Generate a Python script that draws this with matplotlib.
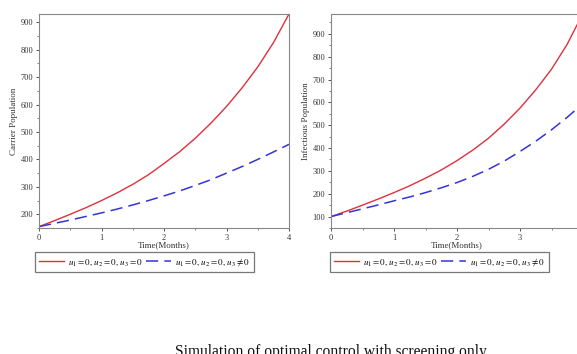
import matplotlib
matplotlib.use("Agg")
import matplotlib.pyplot as plt
import numpy as np

plt.rcParams['font.family'] = ['Liberation Serif', 'DejaVu Serif']
plt.rcParams['mathtext.fontset'] = 'stix'

# time in months
t = [0, 0.25, 0.5, 0.75, 1, 1.25, 1.5, 1.75, 2, 2.25, 2.5, 2.75, 3, 3.25, 3.5, 3.75, 4]

# carrier population (left panel)
carrier_no_ctrl = [155, 177, 200, 224, 250, 278, 309, 344, 385, 428, 477, 532, 593, 661, 737, 825, 930]
carrier_screen = [155, 167, 179, 192, 205, 219, 234, 250, 267, 285, 305, 326, 350, 374, 400, 427, 455]

# infectious population (right panel)
infect_no_ctrl = [100, 124, 150, 177, 205, 235, 268, 304, 345, 391, 443, 505, 575, 655, 745, 855, 990]
infect_screen = [100, 117, 134, 151, 169, 186, 205, 226, 249, 276, 307, 343, 385, 430, 480, 535, 595]

lab1 = r'$u_1=0,\, u_2=0,\, u_3=0$'
lab2 = r'$u_1=0,\, u_2=0,\, u_3\neq 0$'

red = '#e0303c'
blue = '#3434d8'

fig = plt.figure(figsize=(5.77, 3.54), dpi=100)


def panel(rect, y1, y2, ylim, yticks, ylabel, leg_x):
    ax = fig.add_axes(rect)
    ax.plot(t, y1, '-', color=red, lw=1.0, label=lab1)
    ax.plot(t, y2, '-', color=blue, lw=1.1, dashes=(8, 4), label=lab2)
    ax.set_xlim(0, 4)
    ax.set_ylim(*ylim)
    ax.set_xticks([0, 1, 2, 3, 4])
    ax.set_xticks(np.arange(0, 4.01, 0.5), minor=True)
    ax.set_yticks(yticks)
    ax.set_yticks(np.arange(yticks[0] - 50, ylim[1], 50), minor=True)
    ax.tick_params(labelsize=6, length=2.5, width=0.6, pad=1.5, colors='#333333')
    ax.tick_params(which='minor', length=1.5, width=0.5, colors='#555555')
    for s in ax.spines.values():
        s.set_color('#888888')
        s.set_linewidth(0.8)
    ax.set_xlabel('Time(Months)', fontsize=6.5, labelpad=0, color='#333333')
    ax.set_ylabel(ylabel, fontsize=6.5, labelpad=2, color='#333333')
    leg = ax.legend(loc='upper left', bbox_to_anchor=(leg_x, -0.112), ncol=2,
                    fontsize=6.5, frameon=True, fancybox=False, handlelength=2.8,
                    handletextpad=0.4, columnspacing=0.3, borderpad=0.45,
                    borderaxespad=0)
    leg.get_frame().set_edgecolor('#555555')
    leg.get_frame().set_linewidth(0.9)
    return ax


panel([39 / 577, 1 - 228 / 354, 250 / 577, 214 / 354],
      carrier_no_ctrl, carrier_screen, (153, 930),
      [200, 300, 400, 500, 600, 700, 800, 900], 'Carrier Population', -0.016)

panel([331 / 577, 1 - 228 / 354, 252 / 577, 214 / 354],
      infect_no_ctrl, infect_screen, (100, 987),
      [100, 200, 300, 400, 500, 600, 700, 800, 900], 'Infectious Population', -0.004)

fig.text(0.573, 1 - 344 / 354, 'Simulation of optimal control with screening only',
         fontsize=11.2, ha='center', va='top', color='#111111')

fig.savefig('out.png', dpi=100)
